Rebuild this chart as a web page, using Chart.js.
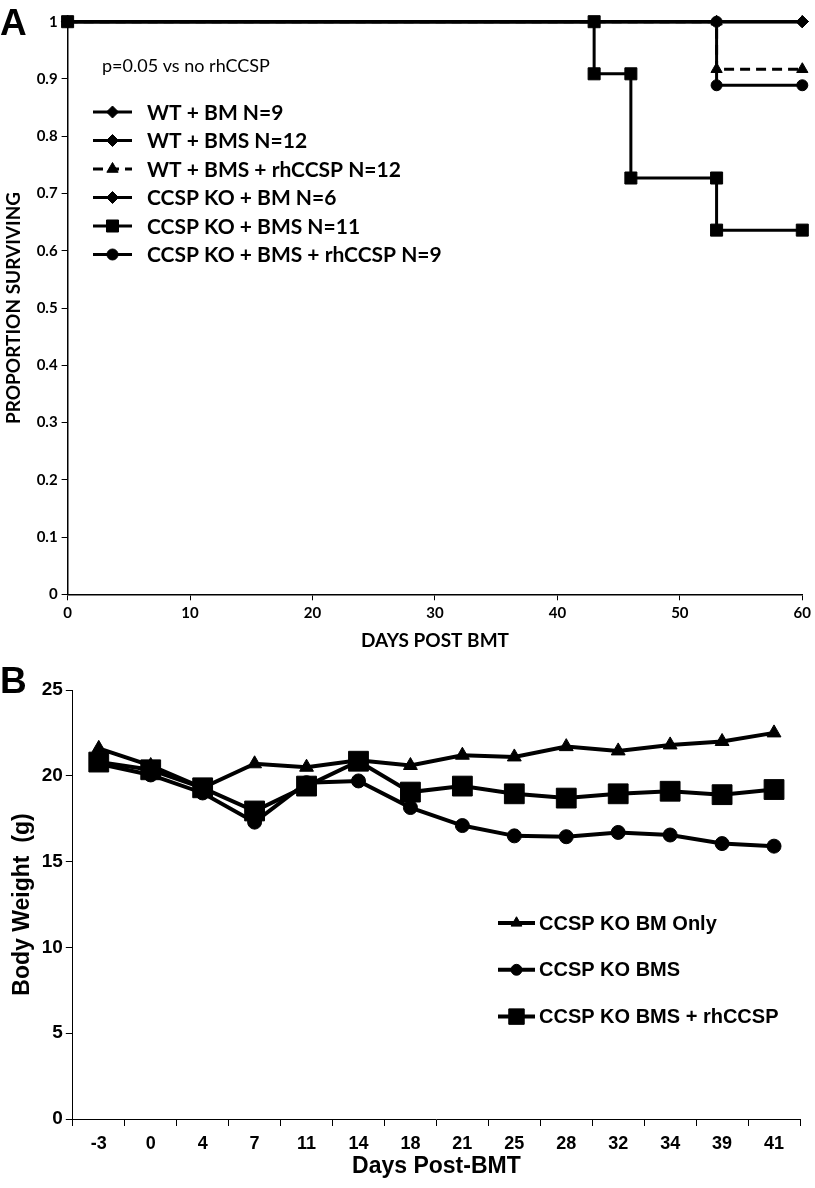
<!DOCTYPE html>
<html>
<head>
<meta charset="utf-8">
<script src="https://cdn.jsdelivr.net/npm/chart.js@4.4.1/dist/chart.umd.min.js"></script>
<style>
  html, body { margin: 0; padding: 0; background: #fff; }
  #page { position: relative; width: 815px; height: 1188px; overflow: hidden; }
  .panel { position: absolute; left: 0; width: 815px; }
  .letter { position: absolute; left: 0; font: bold 37px "Liberation Sans", Arial, sans-serif; line-height: 37px; color: #000; }
</style>
</head>
<body>
<div id="page">
  <div class="panel" style="top:0;height:655px"><canvas id="survChart" width="815" height="655"></canvas></div>
  <div class="panel" style="top:655px;height:533px"><canvas id="weightChart" width="815" height="533"></canvas></div>
  <div class="letter" style="top:4px">A</div>
  <div class="letter" style="top:662px">B</div>
</div>
<script>
// ---- panel A: survival (step points) ----
const wtBmDays = [0, 60];
const wtBmSurv = [1, 1];
const wtBmsDays = [0, 60];
const wtBmsSurv = [1, 1];
const wtBmsRhDays = [0, 53, 53, 60];
const wtBmsRhSurv = [1, 1, 0.917, 0.917];
const koBmDays = [0, 60];
const koBmSurv = [1, 1];
const koBmsDays = [0, 43, 43, 46, 46, 53, 53, 60];
const koBmsSurv = [1, 1, 0.909, 0.909, 0.727, 0.727, 0.636, 0.636];
const koBmsRhDays = [0, 53, 53, 60];
const koBmsRhSurv = [1, 1, 0.889, 0.889];
const survLabels = ['WT + BM N=9', 'WT + BMS N=12', 'WT + BMS + rhCCSP N=12',
  'CCSP KO + BM N=6', 'CCSP KO + BMS N=11', 'CCSP KO + BMS + rhCCSP N=9'];
const survNote = 'p=0.05 vs no rhCCSP';

// ---- panel B: body weight ----
const weightDays = ['-3', '0', '4', '7', '11', '14', '18', '21', '25', '28', '32', '34', '39', '41'];
const bmOnly = [21.6, 20.6, 19.3, 20.7, 20.5, 20.9, 20.6, 21.2, 21.1, 21.7, 21.45, 21.8, 22.0, 22.5];
const bms = [20.7, 20.05, 19.0, 17.3, 19.6, 19.7, 18.15, 17.1, 16.5, 16.45, 16.7, 16.55, 16.05, 15.9];
const bmsRh = [20.8, 20.35, 19.3, 17.95, 19.4, 20.85, 19.05, 19.4, 18.95, 18.7, 18.95, 19.1, 18.9, 19.2];
const weightLabels = ['CCSP KO BM Only', 'CCSP KO BMS', 'CCSP KO BMS + rhCCSP'];

const pts = (xs, ys) => xs.map((x, i) => ({ x: x, y: ys[i] }));

// legend drawn inside the plot (Excel style: line + marker + label)
const insideLegend = {
  id: 'insideLegend',
  afterDatasetsDraw(chart, args, o) {
    if (!o || !o.x) return;
    const ctx = chart.ctx;
    ctx.save();
    chart.data.datasets.forEach((ds, i) => {
      const y = o.y + i * o.gap;
      ctx.strokeStyle = '#000';
      ctx.lineWidth = ds.borderWidth;
      ctx.setLineDash(ds.borderDash || []);
      ctx.beginPath();
      ctx.moveTo(o.x, y);
      ctx.lineTo(o.x + o.len, y);
      ctx.stroke();
      ctx.setLineDash([]);
      ctx.fillStyle = '#000';
      ctx.lineWidth = 1;
      const r = ds.pointRadius * (o.rScale || 1);
      if (Chart.helpers && Chart.helpers.drawPoint) {
        Chart.helpers.drawPoint(ctx, { pointStyle: ds.pointStyle, radius: r, borderWidth: 1, rotation: 0 }, o.x + o.len / 2, y);
      } else {
        ctx.beginPath(); ctx.arc(o.x + o.len / 2, y, r, 0, Math.PI * 2); ctx.fill();
      }
      ctx.font = o.font;
      ctx.textBaseline = 'middle';
      ctx.textAlign = 'left';
      ctx.fillText(ds.label, o.textX, y + 1);
    });
    if (o.note) {
      ctx.font = o.noteFont;
      ctx.textBaseline = 'middle';
      ctx.fillText(o.note, o.noteX, o.noteY);
    }
    ctx.restore();
  }
};

function survSet(label, data, style, r, order, dash) {
  return {
    label: label, data: data, borderColor: '#000', borderWidth: 3, borderDash: dash || [],
    pointStyle: style, pointRadius: r, pointBackgroundColor: '#000', pointBorderColor: '#000',
    pointBorderWidth: 1, tension: 0, clip: false, order: order
  };
}

const fontA = 'Lato';
new Chart(document.getElementById('survChart'), {
  type: 'line',
  data: {
    datasets: [
      survSet(survLabels[0], pts(wtBmDays, wtBmSurv), 'rectRot', 6, 3),
      survSet(survLabels[1], pts(wtBmsDays, wtBmsSurv), 'rectRot', 6, 3),
      survSet(survLabels[2], pts(wtBmsRhDays, wtBmsRhSurv), 'triangle', 6.5, 2, [10, 6]),
      survSet(survLabels[3], pts(koBmDays, koBmSurv), 'rectRot', 6, 3),
      survSet(survLabels[4], pts(koBmsDays, koBmsSurv), 'rect', 8.5, 1),
      survSet(survLabels[5], pts(koBmsRhDays, koBmsRhSurv), 'circle', 5.5, 0)
    ]
  },
  options: {
    responsive: false,
    animation: false,
    devicePixelRatio: 1,
    layout: { padding: { left: 0, right: 11.5, top: 21.7, bottom: 0 } },
    plugins: {
      legend: { display: false },
      tooltip: { enabled: false },
      insideLegend: {
        x: 93, len: 39, textX: 147, y: 112, gap: 28.5, rScale: 1,
        font: 'bold 21px Lato, "Open Sans", sans-serif',
        note: survNote, noteX: 102, noteY: 66, noteFont: '18px Lato, "Open Sans", sans-serif'
      }
    },
    scales: {
      x: {
        type: 'linear', min: 0, max: 60,
        ticks: { stepSize: 10, color: '#000', padding: 4, font: { family: fontA, weight: 'bold', size: 15 } },
        grid: { drawOnChartArea: false, drawTicks: true, tickLength: 6, color: '#000' },
        border: { color: '#000', width: 1.5 },
        title: { display: true, text: 'DAYS POST BMT', color: '#000', padding: { top: 0, bottom: 3 },
          font: { family: fontA, weight: 'bold', size: 19 } },
        afterFit: s => { s.height = 60.7; }
      },
      y: {
        min: 0, max: 1,
        ticks: { stepSize: 0.1, color: '#000', padding: 4, font: { family: fontA, weight: 'bold', size: 15 },
          callback: v => String(Number(v.toFixed(1))) },
        grid: { drawOnChartArea: false, drawTicks: true, tickLength: 6, color: '#000' },
        border: { color: '#000', width: 1.5 },
        title: { display: true, text: 'PROPORTION SURVIVING', color: '#000', padding: { top: 2, bottom: 0 },
          font: { family: fontA, weight: 'bold', size: 19 } },
        afterFit: s => { s.width = 67.6; }
      }
    }
  },
  plugins: [insideLegend]
});

function weightSet(label, data, style, r, order) {
  return {
    label: label, data: data, borderColor: '#000', borderWidth: 4,
    pointStyle: style, pointRadius: r, pointBackgroundColor: '#000', pointBorderColor: '#000',
    pointBorderWidth: 1, tension: 0, clip: false, order: order
  };
}

const fontB = '"Liberation Sans", Arial, sans-serif';
new Chart(document.getElementById('weightChart'), {
  type: 'line',
  data: {
    labels: weightDays,
    datasets: [
      weightSet(weightLabels[0], bmOnly, 'triangle', 8, 1),
      weightSet(weightLabels[1], bms, 'circle', 7, 2),
      weightSet(weightLabels[2], bmsRh, 'rect', 14, 0)
    ]
  },
  options: {
    responsive: false,
    animation: false,
    devicePixelRatio: 1,
    layout: { padding: { left: 0, right: 7, top: 35, bottom: 0 } },
    plugins: {
      legend: { display: false },
      tooltip: { enabled: false },
      insideLegend: {
        x: 498, len: 37, textX: 539, y: 268, gap: 46.8, rScale: 0.78,
        font: 'bold 20px "Liberation Sans", Arial, sans-serif'
      }
    },
    scales: {
      x: {
        type: 'category', offset: true,
        ticks: { color: '#000', padding: 7, font: { family: fontB, weight: 'bold', size: 18 } },
        grid: { offset: true, drawOnChartArea: false, drawTicks: true, tickLength: 7, color: '#000' },
        border: { color: '#000', width: 1 },
        title: { display: true, text: 'Days Post-BMT', color: '#000', padding: { top: 0, bottom: 8 },
          font: { family: fontB, weight: 'bold', size: 23 } },
        afterFit: s => { s.height = 69; }
      },
      y: {
        min: 0, max: 25,
        ticks: { stepSize: 5, color: '#000', padding: 3, font: { family: fontB, weight: 'bold', size: 19 } },
        grid: { drawOnChartArea: false, drawTicks: true, tickLength: 7, color: '#000' },
        border: { color: '#000', width: 1 },
        title: { display: true, text: 'Body Weight  (g)', color: '#000', padding: { top: 9, bottom: 0 },
          font: { family: fontB, weight: 'bold', size: 23 } },
        afterFit: s => { s.width = 72.8; }
      }
    }
  },
  plugins: [insideLegend]
});
</script>
</body>
</html>
